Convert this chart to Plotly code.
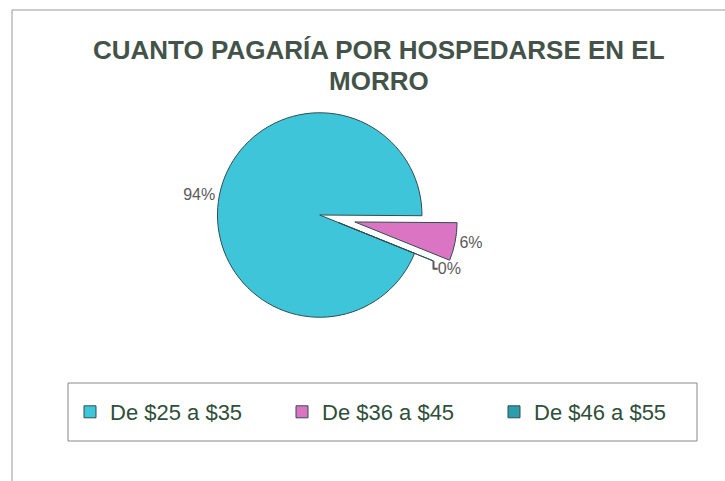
import plotly.graph_objects as go

categories = ["De $25 a $35", "De $36 a $45", "De $46 a $55"]
values = [94, 6, 0]
colors = ["#3ec5da", "#dc74c4", "#2c9daa"]
pulls = [0, 0.35, 0.2]
title_lines = ["CUANTO PAGARÍA POR HOSPEDARSE EN EL", "MORRO"]

W, H = 725, 481

fig = go.Figure()
fig.add_trace(go.Pie(
    labels=categories,
    values=values,
    sort=False,
    direction="clockwise",
    rotation=112,
    pull=pulls,
    marker=dict(colors=colors, line=dict(color="#2f4f4f", width=1)),
    textinfo="percent",
    texttemplate="%{percent:.0%}",
    textposition="outside",
    textfont=dict(family="Liberation Sans, Arial", size=16, color="#5a5a5a"),
    domain=dict(x=[0.441 - 0.26, 0.441 + 0.26], y=[0.266, 0.84]),
    showlegend=True,
    automargin=False,
))

title_font = dict(family="Liberation Sans, Arial", size=26, color="#44534a", weight="bold")
fig.update_layout(
    width=W, height=H,
    margin=dict(l=0, r=0, t=0, b=0, autoexpand=False),
    paper_bgcolor="white",
    plot_bgcolor="white",
    annotations=[
        dict(text=title_lines[0], x=379 / W, y=1 - 50 / H, xref="paper", yref="paper",
             xanchor="center", yanchor="middle", showarrow=False, font=title_font),
        dict(text=title_lines[1], x=379 / W, y=1 - 81 / H, xref="paper", yref="paper",
             xanchor="center", yanchor="middle", showarrow=False, font=title_font),
    ],
    legend=dict(
        orientation="h",
        x=(112 - 42) / W, xanchor="left",
        y=1 - 412 / H, yanchor="middle",
        borderwidth=0,
        bgcolor="rgba(0,0,0,0)",
        font=dict(family="Liberation Sans, Arial", size=22, color="#2f4f3a"),
        entrywidth=167,
        itemwidth=30,
    ),
    shapes=[
        dict(type="line", xref="paper", yref="paper", x0=12 / W, x1=1, y0=1 - 10 / H, y1=1 - 10 / H,
             line=dict(color="#999999", width=1)),
        dict(type="line", xref="paper", yref="paper", x0=12 / W, x1=12 / W, y0=0, y1=1 - 10 / H,
             line=dict(color="#999999", width=1)),
        dict(type="rect", xref="paper", yref="paper", x0=68 / W, x1=697 / W, y0=1 - 441 / H, y1=1 - 383 / H,
             line=dict(color="#888888", width=1), fillcolor="rgba(0,0,0,0)"),
    ],
)

fig.write_html("out.html", config={"displayModeBar": False},
               post_script="document.body.style.margin='0';")
